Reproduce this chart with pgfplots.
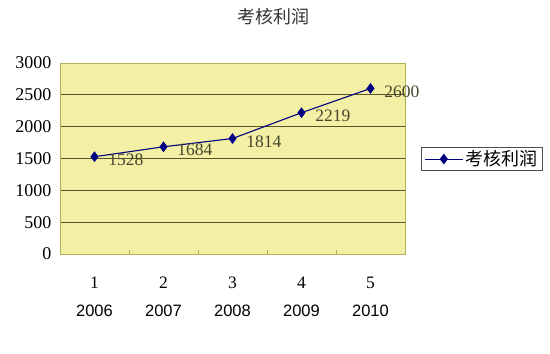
\documentclass[border=0pt]{standalone}
\usepackage{fontspec}
\setmainfont{Liberation Serif}
\setsansfont{Liberation Sans}
\newfontfamily\cjk{Noto Sans CJK SC}
\usepackage{pgfplots}
\pgfplotsset{compat=1.18}
\definecolor{plotbg}{RGB}{243,239,165}
\definecolor{plotborder}{RGB}{180,176,90}
\definecolor{gridc}{RGB}{85,85,40}
\definecolor{navyline}{RGB}{0,0,128}
\definecolor{labc}{RGB}{70,70,45}
\begin{document}
\begin{tikzpicture}
\path[use as bounding box] (0,0) rectangle (550pt,354pt);
\node[font=\cjk\fontsize{18}{20}\selectfont, text=black!80] at (273pt,337pt) {考核利润};
\begin{axis}[
  at={(60pt,100pt)}, anchor=south west,
  scale only axis, width=345pt, height=191pt,
  xmin=0.5, xmax=5.5, ymin=0, ymax=3000,
  axis background/.style={fill=plotbg},
  axis line style={plotborder, line width=0.8pt},
  xtick={1,2,3,4,5},
  xticklabels={1,2,3,4,5},
  major x tick style={draw=none},
  minor xtick={0.5,1.5,2.5,3.5,4.5,5.5},
  minor x tick style={plotborder, line width=0.8pt},
  minor tick length=4pt,
  xtick pos=bottom,
  xticklabel style={font=\fontsize{17.5}{18}\selectfont, yshift=-19pt, text height=12pt, text depth=0pt},
  extra x ticks={1,2,3,4,5},
  extra x tick labels={2006,2007,2008,2009,2010},
  extra x tick style={major x tick style={draw=none}, xticklabel style={font=\sffamily\fontsize{16.5}{17}\selectfont, yshift=-28pt}},
  ytick={0,500,1000,1500,2000,2500,3000},
  ymajorgrids,
  major grid style={gridc, line width=0.7pt},
  major y tick style={draw=none},
  yticklabel style={font=\fontsize{18}{18}\selectfont, xshift=-5pt},
  /pgf/number format/assume math mode=true,
  /pgf/number format/set thousands separator={},
  tick align=inside,
  clip=false,
  legend style={at={(1.0464,0.497)}, anchor=west, draw=black!70, line width=0.6pt,
    font=\cjk\fontsize{18}{20}\selectfont, inner xsep=3pt, inner ysep=1pt},
  legend cell align=left,
  legend image code/.code={\draw[#1, mark repeat=2, mark phase=2] plot coordinates {(0pt,0pt) (19pt,0pt) (38pt,0pt)};},
]
\addplot[navyline, line width=1.1pt, mark=diamond*, mark size=4.5pt, mark options={fill=navyline, solid},
  nodes near coords, point meta=explicit symbolic,
  every node near coord/.style={anchor=west, xshift=10pt, yshift=-3pt, text=labc, font=\fontsize{17.5}{18}\selectfont}]
  coordinates {(1,1528)[1528] (2,1684)[1684] (3,1814)[1814] (4,2219)[2219] (5,2600)[2600]};
\addlegendentry{考核利润}
\end{axis}
\end{tikzpicture}
\end{document}
